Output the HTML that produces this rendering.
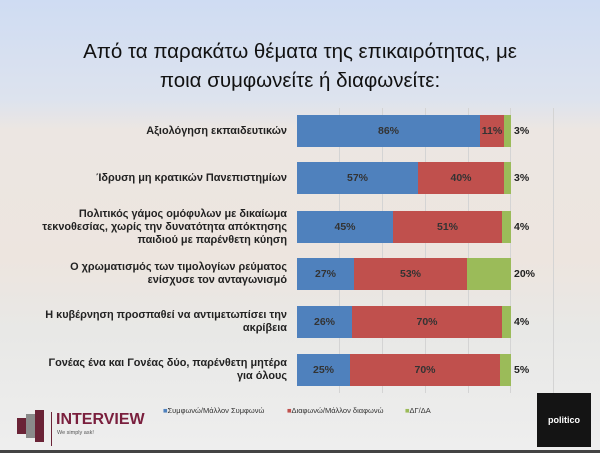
<!DOCTYPE html>
<html><head><meta charset="utf-8"><style>
body{margin:0;width:600px;height:453px;overflow:hidden;font-family:"Liberation Sans","DejaVu Sans",sans-serif;}
#bg{position:absolute;left:0;top:0;width:600px;height:453px;background:linear-gradient(180deg,#cfdcf3 0px,#dde3ee 100px,#ece6e2 130px,#ede5df 260px,#e8e8e6 330px,#eeeeee 450px);}
.title{position:absolute;left:0;width:600px;text-align:center;font-size:20.5px;color:#111;}
.lab{position:absolute;right:313px;width:300px;text-align:right;font-size:10.9px;font-weight:bold;color:#222;line-height:13px;display:flex;align-items:center;justify-content:flex-end;height:32px;}
.bar{position:absolute;left:297px;height:32px;display:flex;}
.bar div{height:100%;display:flex;align-items:center;justify-content:center;font-size:10.5px;font-weight:bold;color:#333;}
.b{background:#4f81bd}.r{background:#c0504d}.g{background:#9bbb59}
.out{position:absolute;left:514px;font-size:10.5px;font-weight:bold;color:#222;}
.grid{position:absolute;top:108px;width:1px;height:285px;background:#d4d4d4;}
</style></head><body>
<div id="bg"></div>
<div class="grid" style="left:339px"></div><div class="grid" style="left:382px"></div><div class="grid" style="left:425px"></div><div class="grid" style="left:468px"></div><div class="grid" style="left:510px"></div><div class="grid" style="left:553px"></div>
<div class="title" style="top:40px">Από τα παρακάτω θέματα της επικαιρότητας, με</div>
<div class="title" style="top:69px">ποια συμφωνείτε ή διαφωνείτε:</div>

<div class="lab" style="top:115px">Αξιολόγηση εκπαιδευτικών</div>
<div class="bar" style="top:115px"><div class="b" style="width:183px">86%</div><div class="r" style="width:24px">11%</div><div class="g" style="width:7px"></div></div>
<div class="out" style="top:125px">3%</div>

<div class="lab" style="top:162px">Ίδρυση μη κρατικών Πανεπιστημίων</div>
<div class="bar" style="top:162px"><div class="b" style="width:121px">57%</div><div class="r" style="width:86px">40%</div><div class="g" style="width:7px"></div></div>
<div class="out" style="top:172px">3%</div>

<div class="lab" style="top:210px;height:34px">Πολιτικός γάμος ομόφυλων με δικαίωμα<br>τεκνοθεσίας, χωρίς την δυνατότητα απόκτησης<br>παιδιού με παρένθετη κύηση</div>
<div class="bar" style="top:211px"><div class="b" style="width:96px">45%</div><div class="r" style="width:109px">51%</div><div class="g" style="width:9px"></div></div>
<div class="out" style="top:221px">4%</div>

<div class="lab" style="top:258px">Ο χρωματισμός των τιμολογίων ρεύματος<br>ενίσχυσε τον ανταγωνισμό</div>
<div class="bar" style="top:258px"><div class="b" style="width:57px">27%</div><div class="r" style="width:113px">53%</div><div class="g" style="width:44px"></div></div>
<div class="out" style="top:268px">20%</div>

<div class="lab" style="top:306px">Η κυβέρνηση προσπαθεί να αντιμετωπίσει την<br>ακρίβεια</div>
<div class="bar" style="top:306px"><div class="b" style="width:55px">26%</div><div class="r" style="width:150px">70%</div><div class="g" style="width:9px"></div></div>
<div class="out" style="top:316px">4%</div>

<div class="lab" style="top:354px">Γονέας ένα και Γονέας δύο, παρένθετη μητέρα<br>για όλους</div>
<div class="bar" style="top:354px"><div class="b" style="width:53px">25%</div><div class="r" style="width:150px">70%</div><div class="g" style="width:11px"></div></div>
<div class="out" style="top:364px">5%</div>

<div style="position:absolute;top:406px;left:163px;font-size:7.5px;color:#333;"><span style="color:#4f81bd">■</span>Συμφωνώ/Μάλλον Συμφωνώ</div>
<div style="position:absolute;top:406px;left:287px;font-size:7.5px;color:#333;"><span style="color:#c0504d">■</span>Διαφωνώ/Μάλλον διαφωνώ</div>
<div style="position:absolute;top:406px;left:405px;font-size:7.5px;color:#333;"><span style="color:#9bbb59">■</span>ΔΓ/ΔΑ</div>

<div style="position:absolute;left:17px;top:418px;width:9px;height:16px;background:#6a2336"></div>
<div style="position:absolute;left:26px;top:414px;width:9px;height:24px;background:#8a8a8a"></div>
<div style="position:absolute;left:35px;top:410px;width:9px;height:32px;background:#6a2336"></div>
<div style="position:absolute;left:51px;top:412px;width:1px;height:34px;background:#6a2336"></div>
<div style="position:absolute;left:56px;top:411px;font-size:16px;font-weight:bold;color:#7a1f3d">INTERVIEW</div>
<div style="position:absolute;left:57px;top:430px;font-size:5.5px;color:#555">We simply ask!</div>

<div style="position:absolute;left:537px;top:393px;width:54px;height:54px;background:#141414;color:#fff;font-size:9px;font-weight:bold;display:flex;align-items:center;justify-content:center">politico</div>
<div style="position:absolute;left:0;top:450px;width:600px;height:3px;background:#444"></div>
</body></html>
